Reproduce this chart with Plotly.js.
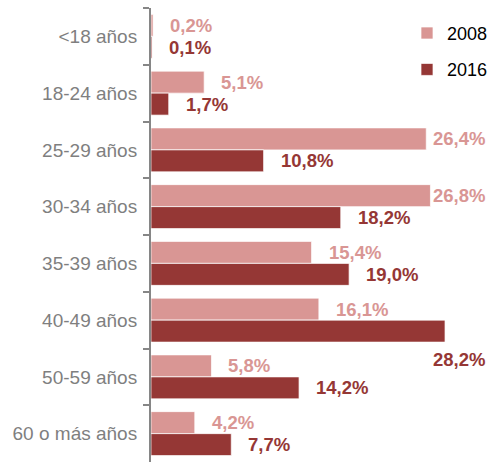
<!DOCTYPE html>
<html>
<head>
<meta charset="utf-8">
<script src="https://cdn.plot.ly/plotly-3.0.1.min.js"></script>
<style>html,body{margin:0;padding:0;background:#fff;}#chart{width:493px;height:462px;}</style>
</head>
<body>
<div id="chart"></div>
<script>
const categories = ['<18 años','18-24 años','25-29 años','30-34 años','35-39 años','40-49 años','50-59 años','60 o más años'];
const seriesNames = ['2008','2016'];
const values2008 = [0.2, 5.1, 26.4, 26.8, 15.4, 16.1, 5.8, 4.2];
const values2016 = [0.1, 1.7, 10.8, 18.2, 19.0, 28.2, 14.2, 7.7];

const colors = ['#D99694', '#953735'];
const W = 493, H = 462;
const margin = {l: 151, r: 5, t: 8, b: 0};
const xMax = 32.13;
const bargap = 0.225;
const FONT = 'Liberation Sans, Arial, sans-serif';
const labelSize = 18.5;

const plotW = W - margin.l - margin.r;
const plotH = H - margin.t - margin.b;
const catPx = plotH / categories.length;
const barPx = catPx * (1 - bargap) / 2;
const pxPerUnit = plotW / xMax;

const ctx = document.createElement('canvas').getContext('2d');
ctx.font = 'bold ' + labelSize + 'px "Liberation Sans", Arial, sans-serif';

const fmt = v => v.toFixed(1).replace('.', ',') + '%';

const allSeries = [values2008, values2016];
const traces = allSeries.map((vals, i) => ({
  type: 'bar', orientation: 'h',
  name: seriesNames[i], legendgroup: 'g' + i,
  y: categories, x: vals,
  marker: {color: colors[i], line: {color: 'rgba(255,255,255,0.7)', width: 1}},
  hoverinfo: 'none'
}));

const annotations = [];
allSeries.forEach((vals, i) => {
  const baseShift = (i === 0 ? 1 : -1) * barPx / 2;
  vals.forEach((v, j) => {
    const txt = fmt(v);
    const w = ctx.measureText(txt).width;
    const endPx = v * pxPerUnit;
    const a = {
      text: '<b>' + txt + '</b>', showarrow: false,
      yref: 'y', y: categories[j], yshift: baseShift,
      font: {family: FONT, size: labelSize, color: colors[i]}
    };
    if (endPx + 17 + w <= plotW) {
      Object.assign(a, {xref: 'x', x: v, xanchor: 'left', xshift: 15});
    } else if (endPx + 2 + w <= plotW + 2) {
      Object.assign(a, {xref: 'paper', x: 1, xanchor: 'right', xshift: 1});
    } else {
      Object.assign(a, {xref: 'paper', x: 1, xanchor: 'right', xshift: 1, yshift: baseShift - 28});
    }
    annotations.push(a);
  });
});

const layout = {
  width: W, height: H, margin: margin,
  paper_bgcolor: '#fff', plot_bgcolor: '#fff',
  barmode: 'group', bargap: bargap, bargroupgap: 0,
  showlegend: true,
  legend: {x: 0.765, y: 0.985, xanchor: 'left', yanchor: 'top', bgcolor: 'rgba(0,0,0,0)',
           font: {family: FONT, size: 18, color: '#000'}, tracegroupgap: 10, itemwidth: 30},
  xaxis: {range: [0, xMax], visible: false, fixedrange: true},
  yaxis: {
    type: 'category', categoryorder: 'array', categoryarray: categories,
    autorange: 'reversed', showline: true, linecolor: '#868686', linewidth: 2,
    ticks: 'outside', tickson: 'boundaries', ticklen: 6, tickcolor: '#868686', tickwidth: 2,
    ticklabelstandoff: 8, showgrid: false, zeroline: false,
    tickfont: {family: FONT, size: 19, color: '#7F7F7F'}
  },
  annotations: annotations,
  font: {family: FONT}
};

Plotly.newPlot('chart', traces, layout, {displayModeBar: false, staticPlot: true});
</script>
</body>
</html>
